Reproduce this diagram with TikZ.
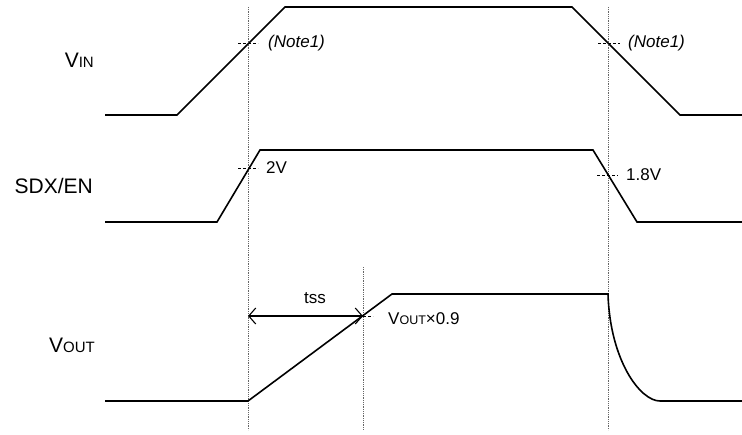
\documentclass[tikz,border=0pt]{standalone}
\usepackage{fontspec}
\setmainfont{Liberation Sans}
\usetikzlibrary{arrows.meta}

\tikzset{
	signal/.style={line width=1.6pt, line join=miter},
	guide/.style={gray!80!black, densely dotted, line width=0.8pt},
	level/.style={densely dashed, line width=0.6pt},
	dimarrow/.style={line width=1.1pt, {Straight Barb[length=7pt, width=16pt]}-{Straight Barb[length=7pt, width=16pt]}},
	siglabel/.style={font=\fontsize{21}{21}\selectfont, anchor=base east, inner sep=0pt},
	note/.style={font=\fontsize{17}{17}\selectfont, anchor=west, inner sep=0pt},
}
\newcommand{\subsc}[1]{{\fontsize{15}{15}\selectfont #1}}
\newcommand{\subsn}[1]{{\fontsize{12.5}{12.5}\selectfont #1}}

\begin{document}
\begin{tikzpicture}[x=1pt, y=-1pt]
		\useasboundingbox (0,0) rectangle (742,434);

		% guides
		\draw[guide] (248,7) -- (248,430);
		\draw[guide] (608,7) -- (608,430);
		\draw[guide] (363,267) -- (363,430);

		% VIN
		\draw[signal] (105,115) -- (177,115) -- (285,7) -- (572,7) -- (680,115) -- (742,115);
		\node[siglabel] (vin) at (94,67) {V\subsc{IN}};
		\draw[level] (238,43) -- (258,43);
		\draw[level] (598,43) -- (620,43);
		\node[note] (noteup) at (268,43) {\itshape (Note1)};
		\node[note] (notedn) at (628,43) {\itshape (Note1)};

		% SDX/EN
		\draw[signal] (105,222) -- (217,222) -- (260,150) -- (593,150) -- (637,222) -- (742,222);
		\node[siglabel] (sdx) at (93,193) {SDX/EN};
		\draw[level] (238,168) -- (258,168);
		\draw[level] (597,175) -- (618,175);
		\node[note] (on) at (266,168) {2V};
		\node[note] (off) at (626,175) {1.8V};

		% VOUT
		\draw[signal] (105,401) -- (248,401) -- (392,294) -- (608,294)
			.. controls (610,360) and (640,401) .. (660,401) -- (742,401);
		\node[siglabel] (vout) at (95,352) {V\subsc{OUT}};
		\draw[level] (353,316) -- (373,316);
		\node[note] (ninety) at (388,319) {V\subsn{OUT}×0.9};

		% tss
		\coordinate (tsa) at (248,316);
		\coordinate (tsb) at (363,316);
		\draw[dimarrow] (tsa) -- (tsb);
		\node[note, anchor=center] (tss) at (315,298) {tss};

	\end{tikzpicture}
\end{document}
